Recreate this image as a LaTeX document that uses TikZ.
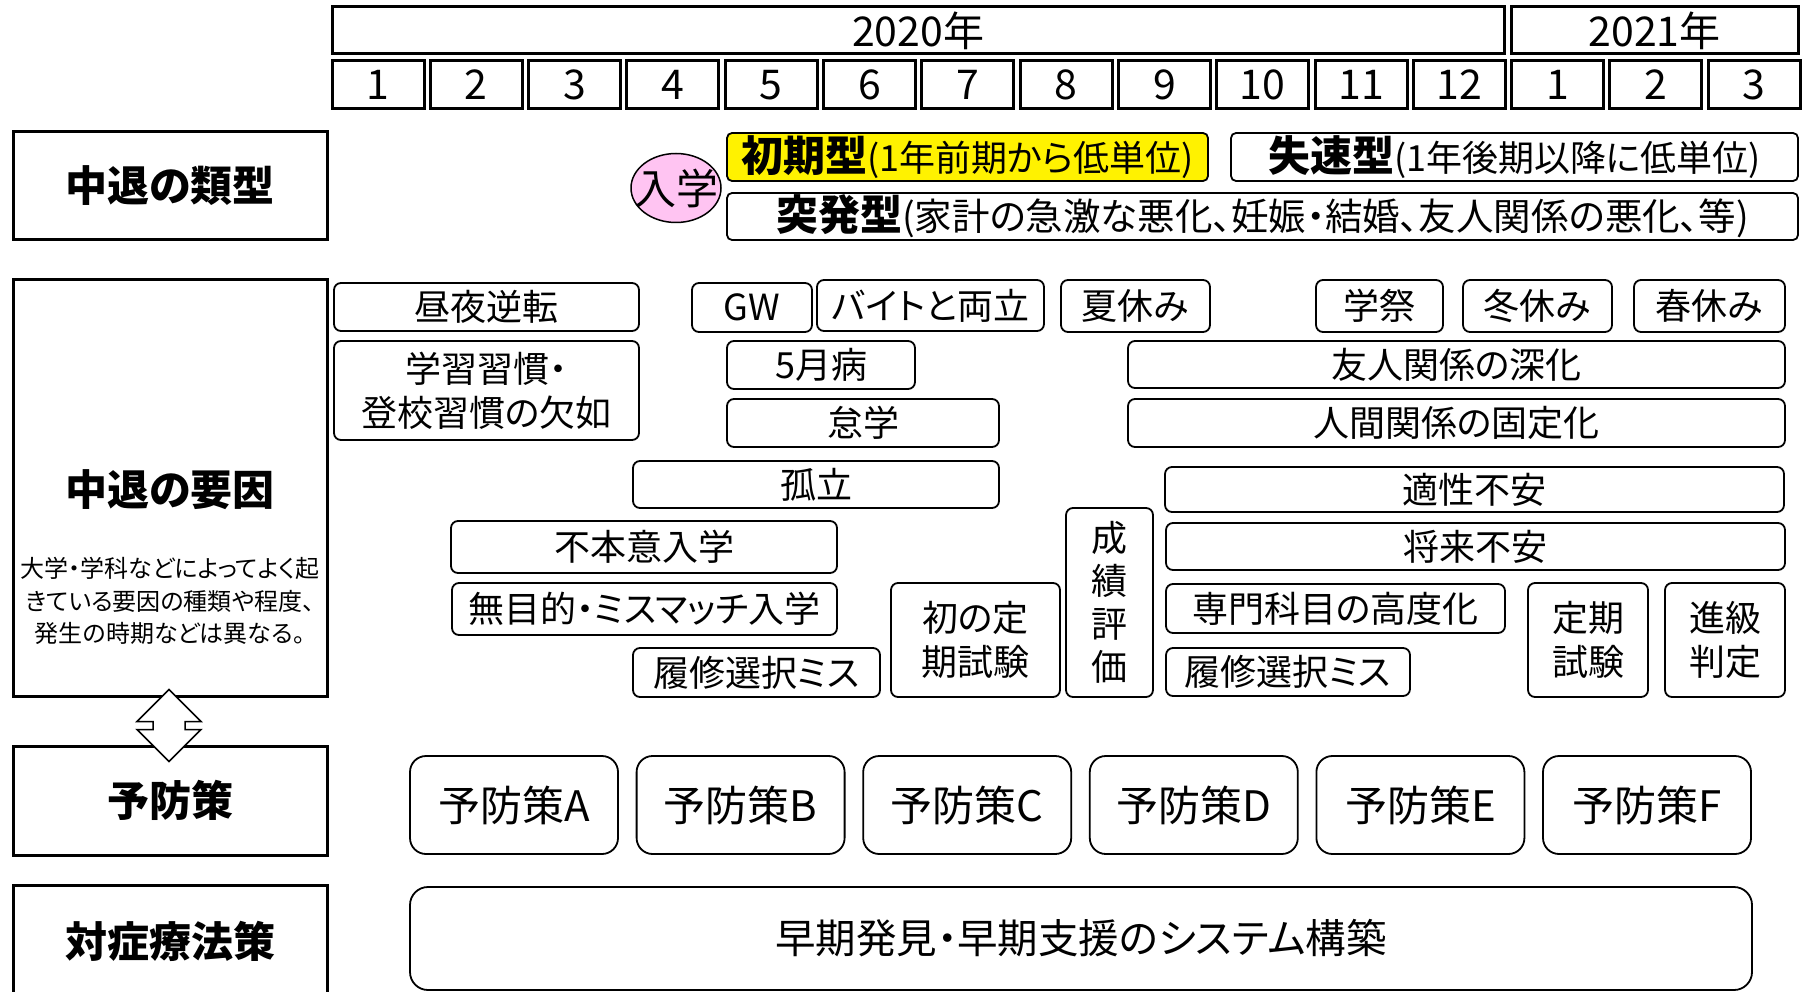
\documentclass[tikz,border=0pt]{standalone}
\usepackage{fontspec}
\setmainfont{Noto Sans CJK JP}[RawFeature=+palt]
\usetikzlibrary{shapes.geometric}
\definecolor{pinkfill}{RGB}{255,196,242}
\newcommand\mybox[7][]{%
  \node[#1, minimum width={((#5)-(#3))*1pt}, minimum height={((#6)-(#4))*1pt}] (#2) at ({((#3)+(#5))/2},{((#4)+(#6))/2}) {#7};}
\tikzset{
  hdr/.style={draw, line width=3pt, inner sep=0pt, font=\fontsize{41}{44}\selectfont},
  ttl/.style={draw, line width=3pt, inner sep=0pt, font=\bfseries\fontsize{42}{46}\selectfont},
  item/.style={draw, line width=1.8pt, rounded corners=7pt, inner sep=0pt, align=center, font=\fontsize{36}{44}\selectfont},
  typebox/.style={draw, line width=1.8pt, rounded corners=5pt, inner sep=0pt},
  prev/.style={draw, line width=1.8pt, rounded corners=16pt, inner sep=0pt, font=\fontsize{42}{46}\selectfont},
  dblarrow/.style={draw, fill=white, line width=1.5pt, line join=miter},
}
\newcommand\bt[1]{{\bfseries\fontsize{42}{46}\selectfont #1}}
\newcommand\rt[1]{{\fontsize{36}{40}\selectfont #1}}
\begin{document}
\begin{tikzpicture}[x=1pt,y=-1pt]
\useasboundingbox (0,0) rectangle (1811,992);
\fill[white] (0,0) rectangle (1811,992);
% header
\mybox[hdr]{y2020}{332}{7}{1504}{54}{2020年}
\mybox[hdr]{y2021}{1511}{7}{1798}{54}{2021年}
\foreach \i/\m in {0/1,1/2,2/3,3/4,4/5,5/6,6/7,7/8,8/9,9/10,10/11,11/12,12/1,13/2,14/3}{
  \pgfmathsetmacro\xa{332+98.3*\i}
  \pgfmathsetmacro\xb{\xa+92}
  \mybox[hdr]{m\i}{\xa}{61}{\xb}{109}{\m}
}
% left titles
\mybox[ttl]{t1}{13}{132}{327}{240}{中退の類型}
\mybox[ttl]{t2}{13}{279}{327}{696}{}
\node[font=\bfseries\fontsize{42}{46}\selectfont] (t2title) at (170,490) {中退の要因};
\node[font=\fontsize{24}{32.5}\selectfont, align=center, inner sep=0pt] (t2sub) at (170,601) {大学・学科などによってよく起\\きている要因の種類や程度、\\発生の時期などは異なる。};
\mybox[ttl]{t3}{13}{746}{327}{855}{予防策}
\mybox[ttl]{t4}{13}{885}{327}{998}{対症療法策}
% types
\node[ellipse, draw, line width=1.5pt, fill=pinkfill, minimum width=90pt, minimum height=69pt, inner sep=0pt] (nyu) at (676,188) {};
\node[font=\fontsize{42}{44}\selectfont, inner sep=0pt] (nyutext) at (nyu.center) {入学};
\mybox[typebox, fill=yellow]{shoki}{727}{133}{1208}{181}{\bt{初期型}\rt{(1年前期から低単位)}}
\mybox[typebox]{shissoku}{1231}{133}{1798}{181}{\bt{失速型}\rt{(1年後期以降に低単位)}}
\mybox[typebox]{toppatsu}{727}{193}{1798}{240}{\bt{突発型}{\fontsize{37.5}{40}\selectfont (家計の急激な悪化、妊娠・結婚、友人関係の悪化、等)}}
% factors
\mybox[item]{r1}{334}{283}{639}{331}{昼夜逆転}
\mybox[item]{r2}{334}{341}{639}{440}{学習習慣・\\登校習慣の欠如}
\mybox[item]{gw}{692}{283}{812}{332}{GW}
\mybox[item]{baito}{817}{280}{1044}{331}{バイトと両立}
\mybox[item]{natsu}{1061}{280}{1210}{332}{夏休み}
\mybox[item]{gakusai}{1316}{280}{1443}{332}{学祭}
\mybox[item]{fuyu}{1463}{280}{1612}{332}{冬休み}
\mybox[item]{haru}{1634}{280}{1785}{332}{春休み}
\mybox[item]{gogatsu}{727}{341}{915}{389}{5月病}
\mybox[item]{taigaku}{727}{399}{999}{447}{怠学}
\mybox[item]{yujin}{1128}{341}{1785}{388}{友人関係の深化}
\mybox[item]{ningen}{1128}{399}{1785}{447}{人間関係の固定化}
\mybox[item]{koritsu}{633}{461}{999}{508}{孤立}
\mybox[item]{tekisei}{1165}{467}{1784}{512}{適性不安}
\mybox[item]{shorai}{1166}{523}{1785}{570}{将来不安}
\mybox[item]{fuhon}{451}{521}{837}{573}{不本意入学}
\mybox[item]{mumoku}{452}{583}{837}{635}{無目的・ミスマッチ入学}
\mybox[item]{rishuA}{633}{648}{880}{697}{履修選択ミス}
\mybox[item]{shoteiki}{891}{583}{1060}{697}{初の定\\期試験}
\mybox[item, font=\fontsize{36}{43}\selectfont]{seiseki}{1066}{508}{1153}{697}{成\\績\\評\\価}
\mybox[item]{senmon}{1166}{584}{1505}{633}{専門科目の高度化}
\mybox[item]{rishuB}{1166}{648}{1410}{696}{履修選択ミス}
\mybox[item]{teiki}{1528}{583}{1648}{697}{定期\\試験}
\mybox[item]{shinkyu}{1665}{583}{1785}{697}{進級\\判定}
% prevention
\foreach \k/\lab in {0/A,1/B,2/C,3/D,4/E,5/F}{
  \pgfmathsetmacro\xa{410+226.6*\k}
  \pgfmathsetmacro\xb{\xa+208}
  \mybox[prev]{p\lab}{\xa}{756}{\xb}{854}{予防策\lab}
}
\mybox[prev, rounded corners=18pt, font=\fontsize{40.5}{44}\selectfont]{early}{410}{887}{1752}{990}{早期発見・早期支援のシステム構築}
% double arrow between factor and prevention titles
\begin{scope}[shift={(t2.south)}]
\draw[dblarrow] (-1,-8) -- (31,24) -- (15,24) -- (15,32) -- (31,32) -- (-1,64) -- (-33,32) -- (-17,32) -- (-17,24) -- (-33,24) -- cycle;
\end{scope}
\end{tikzpicture}
\end{document}
